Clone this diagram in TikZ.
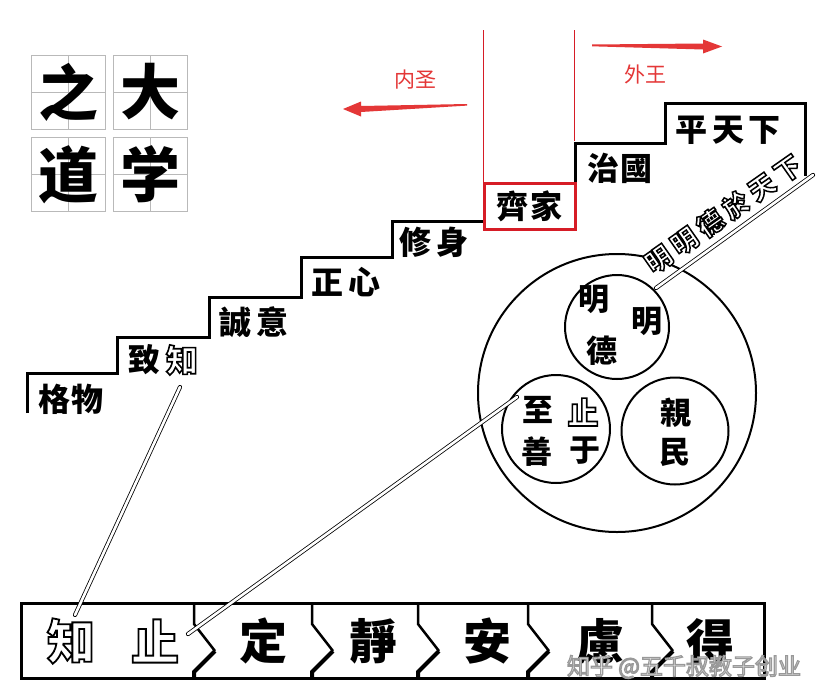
\documentclass[tikz,border=0pt]{standalone}
\usepackage{fontspec}
\usetikzlibrary{calc}
\newfontfamily\cjktc{Noto Sans CJK TC}
\newfontfamily\cjksc{Noto Sans CJK SC}
\definecolor{redc}{RGB}{228,55,55}
\definecolor{boxred}{RGB}{214,28,38}
% outlined (hollow) text: white fill, stroked outline
\newcommand{\outlinetext}[3]{\special{pdf:literal direct 2 Tr #2 w #1 RG}#3\special{pdf:literal direct 0 Tr}}
\begin{document}
\begin{tikzpicture}[x=1pt,y=-1pt,
  stair/.style={line width=3pt, line join=miter, line cap=butt},
  titlebox/.style={draw=gray!55, line width=0.8pt, minimum size=74pt, inner sep=0pt,
    font=\cjksc\bfseries\fontsize{60}{60}\selectfont,
    path picture={\draw[gray!55,line width=0.8pt]
      (path picture bounding box.north) -- (path picture bounding box.south)
      (path picture bounding box.west) -- (path picture bounding box.east);}},
  steptxt/.style={inner sep=0pt, font=\cjktc\bfseries\fontsize{32}{32}\selectfont},
  circtxt/.style={inner sep=0pt, font=\cjktc\bfseries\fontsize{31}{31}\selectfont},
  bartxt/.style={inner sep=0pt, font=\cjktc\bfseries\fontsize{48}{48}\selectfont},
  diagtxt/.style={inner sep=0pt, rotate=35, font=\cjktc\bfseries\fontsize{26}{26}\selectfont},
  marktxt/.style={inner sep=0pt, font=\cjksc\fontsize{23}{23}\selectfont},
  hollowsty/.style={text=white},
  redtxt/.style={inner sep=0pt, text=redc, font=\cjksc\fontsize{21}{21}\selectfont},
  ring/.style={circle, draw, line width=2pt, inner sep=0pt},
  stick/.style={draw=black, line width=0.8pt, double=white, double distance=2.6pt, line cap=round},
  sepline/.style={line width=2.5pt, line join=miter},
]
\useasboundingbox[fill=white] (0,0) rectangle (830,699);

% title
\node[titlebox] (t1) at (68.5,92) {之};
\node[titlebox] (t2) at (150,92) {大};
\node[titlebox] (t3) at (68.5,174.5) {道};
\node[titlebox] (t4) at (150,174.5) {学};

% red guide lines and arrows
\draw[boxred, line width=0.9pt] (483,30) -- (483,182);
\draw[boxred, line width=0.9pt] (574,30) -- (574,141);
\fill[redc] (467,104) -- (361,106) -- (361,101.5) -- (343,109) -- (361,116.5) -- (361,112) -- (467,105.6) -- cycle;
\fill[redc] (592,44.5) -- (703,43.5) -- (703,39.5) -- (722,46.5) -- (703,53.5) -- (703,49.5) -- (592,46.3) -- cycle;
\node[redtxt] (neisheng) at (415,80) {内圣};
\node[redtxt] (waiwang) at (645,74) {外王};

% staircase
\draw[stair] (27,413) -- (27,373) -- (117,373) -- (117,337) -- (209,337) -- (209,297)
  -- (301,297) -- (301,257) -- (392,257) -- (392,221) -- (483,221);
\draw[stair] (575,182) -- (575,143) -- (665,143) -- (665,103) -- (805,103) -- (805,176);
\node[draw=boxred, line width=3pt, minimum width=91pt, minimum height=46pt, inner sep=0pt,
  font=\cjktc\bfseries\fontsize{32}{32}\selectfont] (qijia) at (529.5,206) {齊\hspace{2pt}家};

\node[steptxt] (gewu) at (71,399) {格\hspace{2pt}物};
\node[steptxt] (zhi1) at (144,360) {致};
\node[steptxt, hollowsty] (zhizhi) at (182,360) {\outlinetext{0 0 0}{1.6}{知}};
\node[steptxt] (chengyi) at (254,322) {誠\hspace{5pt}意};
\node[steptxt] (zhengxin) at (346,282) {正\hspace{5pt}心};
\node[steptxt] (xiushen) at (434,242) {修\hspace{5pt}身};
\node[steptxt] (zhiguo) at (620,168) {治\hspace{2pt}國};
\node[steptxt] (pingtianxia) at (728,130) {平\hspace{5pt}天\hspace{5pt}下};

% circles
\node[ring, minimum size=278pt] (big) at (617,393) {};
\node[ring, minimum size=104pt] (mingde) at (617,327) {};
\node[ring, minimum size=108pt] (zhishan) at (556,429) {};
\node[ring, minimum size=107pt] (qinmin) at (675,431) {};

\node[circtxt] (m1) at (594,299) {明};
\node[circtxt] (m2) at (602,351) {德};
\node[circtxt] (m3) at (647,321) {明};
\node[circtxt] (c1) at (538,410) {至};
\node[circtxt, hollowsty] (zhizhi2) at (583,412) {\outlinetext{0 0 0}{1.6}{止}};
\node[circtxt] (c3) at (537,452) {善};
\node[circtxt] (c4) at (585,451) {于};
\node[circtxt] (q1) at (676,413) {親};
\node[circtxt] (q2) at (675,452) {民};

% bottom bar
\node[draw, line width=2.5pt, minimum width=743pt, minimum height=75pt, inner sep=0pt,
  anchor=north west] (bar) at (20,602) {};
\foreach \sx in {194,312,418,528,652}{
  \draw[sepline] (\sx,602) -- (\sx,624) -- (\sx+21,651);
  \draw[line width=4pt, line cap=butt] (\sx+21,651) -- (\sx,672) -- (\sx,677);
}
\node[bartxt, hollowsty] (bzhi) at (71,641) {\outlinetext{0 0 0}{1.8}{知}};
\node[bartxt, hollowsty] (bzhi2) at (155,641) {\outlinetext{0 0 0}{1.8}{止}};
\node[bartxt] (ding) at (263,641) {定};
\node[bartxt] (jing) at (373,641) {靜};
\node[bartxt] (an) at (487,641) {安};
\node[bartxt] (lv) at (600,641) {慮};
\node[bartxt] (de) at (710,641) {得};

% sticks
\coordinate (s1top) at (180,387);
\coordinate (s1bot) at (75,615);
\coordinate (s2bot) at (188,634);
\coordinate (s2top) at (517,397);
\coordinate (s3bot) at (656,288);
\coordinate (s3top) at (813,175);
\draw[stick] (s1top) -- (s1bot);
\draw[stick] (s2bot) -- (s2top);
\draw[stick] (s3bot) -- (s3top);
\node[diagtxt, hollowsty] (mmd) at (723,214)
  {\outlinetext{0 0 0}{1.5}{明\hspace{5.5pt}明\hspace{5.5pt}德\hspace{5.5pt}於\hspace{5.5pt}天\hspace{5.5pt}下}};

% watermark
\node[marktxt, hollowsty] (mark) at (684,667) {\outlinetext{0.6 0.6 0.6}{1.2}{知乎 @五千叔教子创业}};
\end{tikzpicture}
\end{document}
